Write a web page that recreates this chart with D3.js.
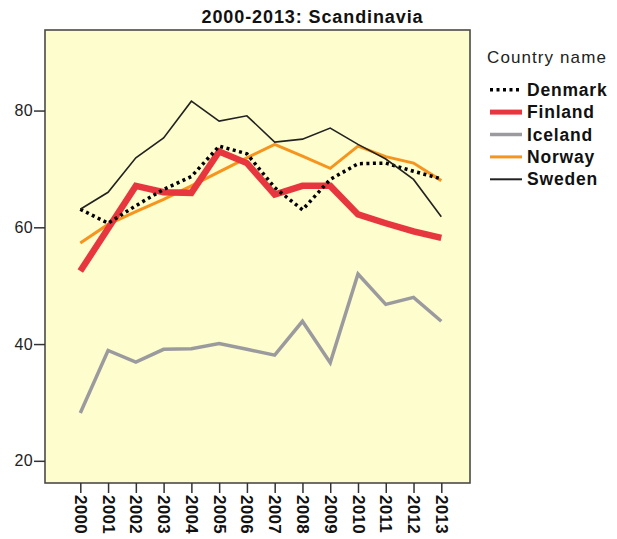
<!DOCTYPE html>
<html><head><meta charset="utf-8">
<script src="https://cdn.jsdelivr.net/npm/d3@7"></script>
<style>body{margin:0;background:#fff;}svg{display:block;font-family:"Liberation Sans",Arial,sans-serif;}</style>
</head><body>
<svg id="c" width="617" height="539"></svg>
<script>
const years = ["2000","2001","2002","2003","2004","2005","2006","2007","2008","2009","2010","2011","2012","2013"];
const denmark = [63.1,60.7,63.7,66.5,68.7,73.9,72.6,66.8,63.0,68.2,70.9,71.0,69.6,68.3];
const finland = [52.5,59.8,67.1,66.0,65.9,73.0,71.0,65.6,67.1,67.1,62.2,60.7,59.3,58.2];
const iceland = [28.2,38.9,36.9,39.1,39.2,40.1,39.1,38.1,43.9,36.8,52.0,46.8,48.0,43.9];
const norway  = [57.3,60.5,62.7,64.8,67.1,69.5,71.9,74.2,72.2,70.1,73.9,72.1,71.0,68.0];
const sweden  = [63.1,66.0,71.9,75.3,81.6,78.2,79.1,74.6,75.1,77.0,74.2,71.7,68.2,61.8];
const seriesNames = ["Denmark","Finland","Iceland","Norway","Sweden"];
const yTicks = [20,40,60,80];
const title = "2000-2013: Scandinavia";
const legendTitle = "Country name";

const series = [
  {name:"Denmark", values:denmark, color:"#000", width:3.5, lw:3.5, dash:"3,3.5"},
  {name:"Finland", values:finland, color:"#E8363F", width:6.5, lw:5, dash:null},
  {name:"Iceland", values:iceland, color:"#9B9B9F", width:3.5, lw:3.5, dash:null},
  {name:"Norway",  values:norway,  color:"#F7941D", width:3, lw:3, dash:null},
  {name:"Sweden",  values:sweden,  color:"#222", width:1.6, lw:2, dash:null}
];

const L=45, R=470, T=30, B=483;
const svg = d3.select("#c");
const x = d3.scalePoint().domain(years).range([80.3,441.3]);
const y = d3.scaleLinear().domain([16.2,93.8]).range([B,T]);

svg.append("rect").attr("x",L).attr("y",T).attr("width",R-L).attr("height",B-T)
  .attr("fill","#FEFDCD").attr("stroke","#4a4a4a").attr("stroke-width",1.6);

svg.append("text").attr("x",312.5).attr("y",23).attr("text-anchor","middle")
  .attr("font-weight","bold").attr("font-size","18px").attr("letter-spacing","0.9px")
  .attr("fill","#111").text(title);

// y axis
const ya = svg.append("g").attr("transform",`translate(${L},0)`)
  .call(d3.axisLeft(y).tickValues(yTicks).tickSize(11).tickSizeOuter(0));
ya.select(".domain").remove();
ya.selectAll("line").attr("stroke","#333").attr("stroke-width",1.5);
ya.selectAll("text").attr("font-size","16px").attr("fill","#222")
  .attr("letter-spacing","0.4px")
  .attr("font-family","Liberation Sans,Arial,sans-serif").attr("x",-12);

// x axis
const xa = svg.append("g").attr("transform",`translate(0,${B})`)
  .call(d3.axisBottom(x).tickSize(10).tickSizeOuter(0));
xa.select(".domain").remove();
xa.selectAll("line").attr("stroke","#333").attr("stroke-width",1.5);
xa.selectAll("text").attr("font-size","17px").attr("font-weight","bold").attr("fill","#111")
  .attr("letter-spacing","0.3px")
  .attr("font-family","Liberation Sans,Arial,sans-serif")
  .attr("transform","rotate(90)").attr("text-anchor","start")
  .attr("x",12).attr("y",0).attr("dy","0.35em");

const line = d3.line().x((d,i)=>x(years[i])).y(d=>y(d));
const order = ["Iceland","Norway","Finland","Denmark","Sweden"];
order.forEach(n=>{
  const s = series.find(d=>d.name===n);
  svg.append("path").datum(s.values).attr("d",line).attr("fill","none")
    .attr("stroke",s.color).attr("stroke-width",s.width)
    .attr("stroke-linejoin","miter").attr("stroke-dasharray",s.dash);
});

// legend
const lg = svg.append("g");
lg.append("text").attr("x",487).attr("y",63).attr("font-size","17px")
  .attr("letter-spacing","1.1px").attr("fill","#222").text(legendTitle);
series.forEach((s,i)=>{
  const cy = 89.7 + i*22.4;
  lg.append("line").attr("x1",490).attr("x2",522).attr("y1",cy).attr("y2",cy)
    .attr("stroke",s.color).attr("stroke-width",s.lw).attr("stroke-dasharray",s.dash);
  lg.append("text").attr("x",527).attr("y",cy).attr("dy","0.35em").attr("font-size","17.5px")
    .attr("letter-spacing","0.8px")
    .attr("font-weight","bold").attr("fill","#111").text(seriesNames[i]);
});
</script>
</body></html>
